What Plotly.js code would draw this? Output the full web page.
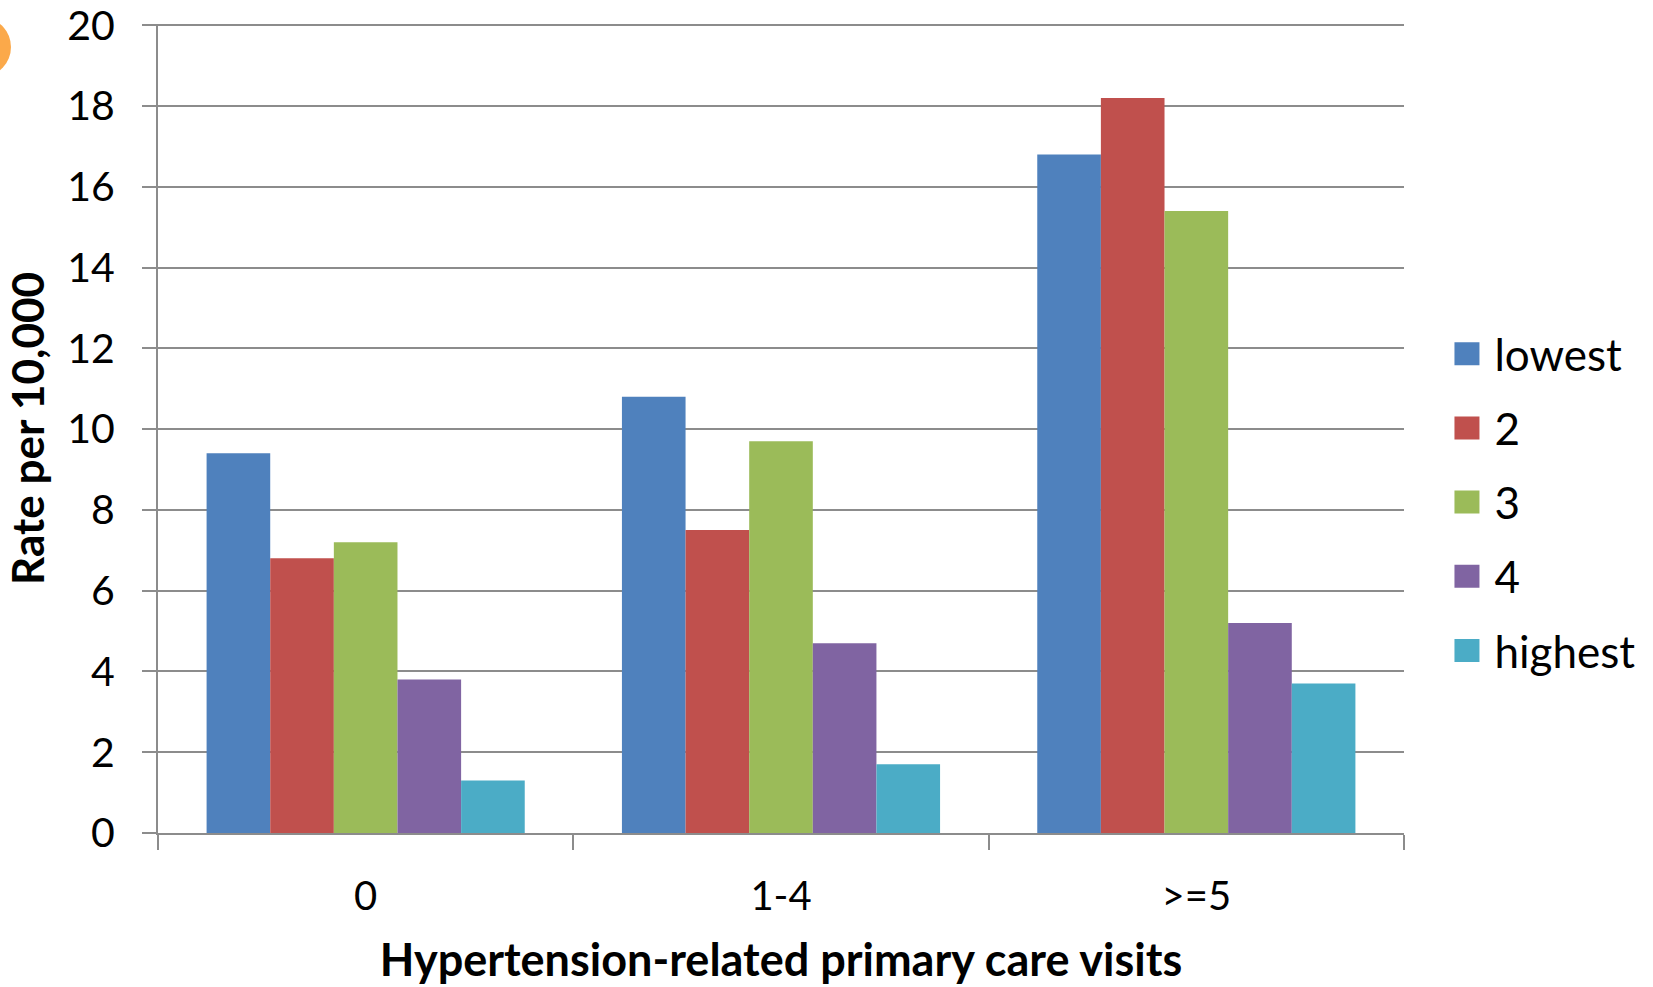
<!DOCTYPE html>
<html>
<head>
<meta charset="utf-8">
<script src="https://cdn.plot.ly/plotly-3.0.1.min.js"></script>
<style>
  html, body { margin: 0; padding: 0; background: #ffffff; }
  #chart { width: 1653px; height: 987px; }
</style>
</head>
<body>
<div id="chart"></div>
<script>
// Visit categories on the x axis
const visitCategories = ['0', '1-4', '>=5'];

// Quintile series names and colours
const seriesNames = ['lowest', '2', '3', '4', 'highest'];
const seriesColors = ['#4F81BD', '#C0504D', '#9BBB59', '#8064A2', '#4BACC6'];

// Rate per 10,000 for each quintile, one value per visit category
const lowestValues  = [9.4, 10.8, 16.8];
const q2Values      = [6.8, 7.5, 18.2];
const q3Values      = [7.2, 9.7, 15.4];
const q4Values      = [3.8, 4.7, 5.2];
const highestValues = [1.3, 1.7, 3.7];

const seriesValues = [lowestValues, q2Values, q3Values, q4Values, highestValues];

const yMax = 20;
const yStep = 2;

const FONT = 'Lato, "Open Sans", sans-serif';
const GRID = '#8c8c8c';

const traces = seriesNames.map((name, i) => ({
  type: 'bar',
  name: name,
  x: visitCategories,
  y: seriesValues[i],
  legendgroup: 'g' + i,
  marker: { color: seriesColors[i], line: { width: 0 } },
  hoverinfo: 'x+y+name'
}));

const layout = {
  width: 1653,
  height: 987,
  paper_bgcolor: '#ffffff',
  plot_bgcolor: '#ffffff',
  margin: { l: 158, r: 249, t: 24, b: 154, pad: 0 },
  barmode: 'group',
  bargap: 0.234,
  bargroupgap: 0,
  font: { family: FONT, color: '#000000', size: 40 },
  xaxis: {
    type: 'category',
    tickson: 'boundaries',
    ticks: 'outside',
    ticklen: 15,
    tickwidth: 2,
    tickcolor: GRID,
    showline: true,
    linecolor: GRID,
    linewidth: 2,
    showgrid: false,
    ticklabelstandoff: 27,
    tickfont: { family: FONT, size: 40, color: '#000000' },
    title: {
      text: 'Hypertension-related primary care visits',
      font: { family: FONT, size: 45, color: '#000000', weight: 'bold' },
      standoff: 26
    },
    automargin: false
  },
  yaxis: {
    range: [0, yMax + 0.03],
    autorange: false,
    tickmode: 'linear',
    tick0: 0,
    dtick: yStep,
    ticks: 'outside',
    ticklen: 14,
    tickwidth: 2,
    tickcolor: GRID,
    showline: true,
    linecolor: GRID,
    linewidth: 2,
    showgrid: true,
    gridcolor: GRID,
    gridwidth: 2,
    zeroline: false,
    ticklabelstandoff: 19,
    ticklabeloverflow: 'allow',
    tickfont: { family: FONT, size: 41, color: '#000000' },
    title: {
      text: 'Rate per 10,000',
      font: { family: FONT, size: 44, color: '#000000', weight: 'bold' },
      standoff: 9
    },
    automargin: false
  },
  showlegend: true,
  legend: {
    x: 1.0405,
    xanchor: 'left',
    y: 0.409,
    yanchor: 'middle',
    traceorder: 'grouped',
    tracegroupgap: 14,
    font: { family: FONT, size: 44, color: '#000000' },
    bgcolor: 'rgba(0,0,0,0)',
    borderwidth: 0
  },
  shapes: [
    // decorative orange dot at the top-left corner
    {
      type: 'circle',
      xref: 'paper', yref: 'paper',
      x0: -0.1613, x1: -0.118,
      y0: 0.936, y1: 1.007,
      fillcolor: '#FBA94A',
      line: { width: 0 },
      layer: 'above'
    }
  ]
};

Plotly.newPlot('chart', traces, layout, { displayModeBar: false, staticPlot: true }).then(() => {
  // wide square legend swatches, nudged left to leave room before the text
  document.querySelectorAll('#chart .legend .legendpoints path').forEach(p => {
    p.setAttribute('d', 'M5,11.5H-22V-11.5H5Z');
  });
});
</script>
</body>
</html>
